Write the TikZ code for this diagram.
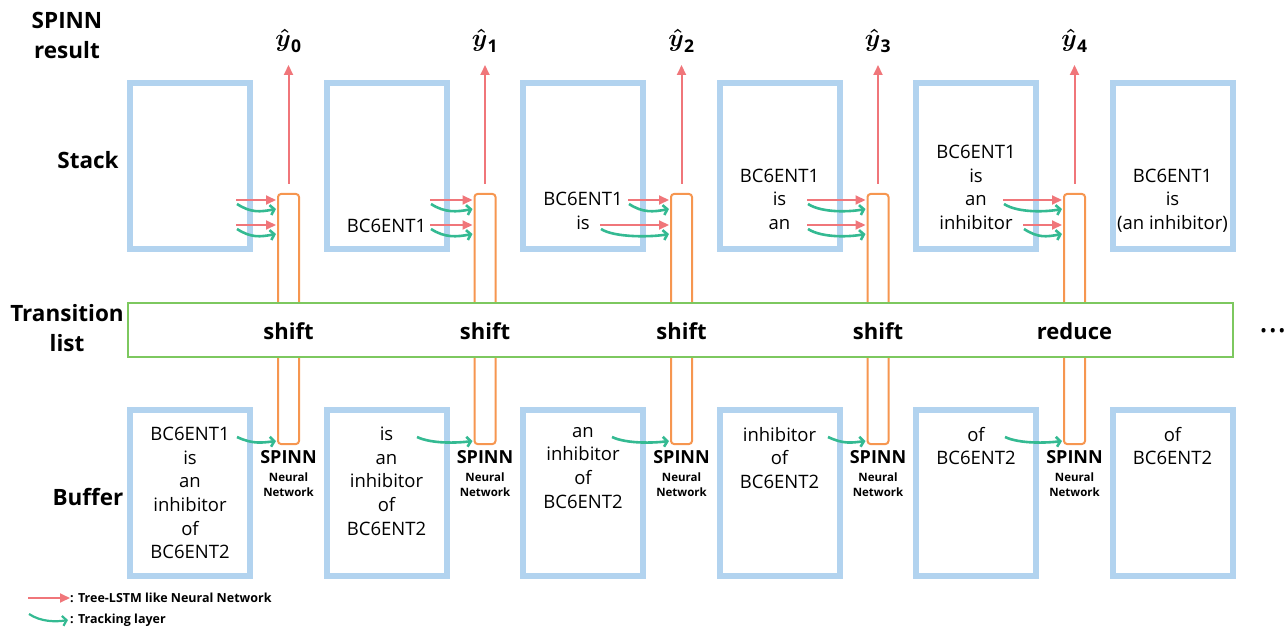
\documentclass[tikz,border=0pt]{standalone}
\usepackage{fontspec}
\setmainfont{Open Sans}
\usepackage{amsmath}
\usetikzlibrary{arrows.meta,calc}
\definecolor{boxblue}{RGB}{178,211,239}
\definecolor{nnorange}{RGB}{246,150,80}
\definecolor{treered}{RGB}{240,118,122}
\definecolor{trackgreen}{RGB}{52,186,146}
\definecolor{transgreen}{RGB}{125,200,95}
\begin{document}
\begin{tikzpicture}[x=1pt,y=-1pt,
  wordbox/.style={draw=boxblue, line width=6pt, fill=white, inner sep=0pt,
                  minimum width=120pt, minimum height=166pt},
  nnbox/.style={draw=nnorange, line width=2pt, rounded corners=3pt, fill=white,
                inner sep=0pt, minimum width=21pt, minimum height=250pt},
  transbox/.style={draw=transgreen, line width=2pt, fill=white, inner sep=0pt,
                   minimum width=1105pt, minimum height=54pt},
  treearr/.style={draw=treered, line width=2pt, -{Triangle[length=10pt,width=9pt]}},
  trackarr/.style={draw=trackgreen, line width=2.6pt, -{Straight Barb[length=4pt,width=10pt]}},
  words/.style={anchor=north, inner sep=0pt, align=center,
                font=\fontsize{18.5}{23.6}\selectfont,
                execute at begin node=\strut, execute at end node=\strut},
  rowlabel/.style={inner sep=0pt, align=center, font=\fontsize{22.5}{30}\selectfont\bfseries},
  oplabel/.style={inner sep=0pt, font=\fontsize{22}{26}\selectfont\bfseries},
  spinn/.style={inner sep=0pt, font=\fontsize{18}{20}\selectfont\bfseries},
  nnsub/.style={inner sep=0pt, align=center, font=\fontsize{11.5}{15}\selectfont\bfseries},
  yhat/.style={inner sep=0pt, font=\fontsize{25}{30}\selectfont},
  legend/.style={inner sep=0pt, anchor=west, font=\fontsize{12.5}{15}\selectfont\bfseries}
]
\useasboundingbox (0,0) rectangle (1284,628);

% row labels
\node[rowlabel, anchor=north] (lres) at (67,12.5) {SPINN\\result};
\node[rowlabel] (lstack) at (88,160) {Stack};
\node[rowlabel, anchor=north] (ltrans) at (67,304.5) {Transition\\list};
\node[rowlabel] (lbuf) at (88,497) {Buffer};

% stack and buffer boxes
\foreach \i in {1,...,6}{
  \pgfmathsetmacro{\cx}{190+196.5*(\i-1)}
  \node[wordbox] (s\i) at (\cx,166) {};
  \node[wordbox] (b\i) at (\cx,493) {};
}

% SPINN neural network columns
\foreach \i in {1,...,5}{
  \pgfmathsetmacro{\ox}{288.5+196.5*(\i-1)}
  \node[nnbox] (o\i) at (\ox,319) {};
  \node[spinn] (sp\i) at (\ox,457) {SPINN};
  \node[nnsub] (nn\i) at (\ox,484.5) {Neural\\Network};
}

% transition list
\node[transbox] (t) at (680.5,330) {};
\node[oplabel] (op1) at (o1 |- 0,331) {shift};
\node[oplabel] (op2) at (o2 |- 0,331) {shift};
\node[oplabel] (op3) at (o3 |- 0,331) {shift};
\node[oplabel] (op4) at (o4 |- 0,331) {shift};
\node[oplabel] (op5) at (o5 |- 0,331) {reduce};
\node[inner sep=0pt, anchor=base west, font=\fontsize{34}{40}\selectfont] (dots) at (1259,332) {...};

% results
\coordinate (arrtop) at (0,65);
\foreach \i in {1,...,5}{
  \pgfmathtruncatemacro{\k}{\i-1}
  \node[yhat] (y\i) at (o\i |- 0,41) {$\boldsymbol{\hat{y}}_{\mathbf{\k}}$};
  \draw[treearr] ([yshift=9pt]o\i.north) -- (o\i.north |- arrtop);
}

% stack contents
\node[words] (st2) at (s2 |- 0,216) {BC6ENT1};
\node[words] (st3) at (s3 |- 0,192.4) {BC6ENT1\\is};
\node[words] (st4) at (s4 |- 0,168.8) {BC6ENT1\\is\\an};
\node[words] (st5) at (s5 |- 0,145.2) {BC6ENT1\\is\\an\\inhibitor};
\node[words] (st6) at (s6 |- 0,168.8) {BC6ENT1\\is\\(an inhibitor)};

% buffer contents
\node[words] (bt1) at (b1 |- 0,427) {BC6ENT1\\is\\an\\inhibitor\\of\\BC6ENT2};
\node[words] (bt2) at (b2 |- 0,427) {is\\an\\inhibitor\\of\\BC6ENT2};
\node[words] (bt3) at (b3 |- 0,427) {an\\inhibitor\\of\\BC6ENT2};
\node[words] (bt4) at (b4 |- 0,427) {inhibitor\\of\\BC6ENT2};
\node[words] (bt5) at (b5 |- 0,427) {of\\BC6ENT2};
\node[words] (bt6) at (b6 |- 0,427) {of\\BC6ENT2};

% stack -> network arrows (tree-LSTM red + tracking green)
\coordinate (r1a) at (236,200);  \coordinate (r1b) at (236,225);
\coordinate (r2a) at (430,200);  \coordinate (r2b) at (430,225);
\coordinate (r3a) at (628,200);  \coordinate (r3b) at (600,225);
\coordinate (r4a) at (807,200);  \coordinate (r4b) at (807,225);
\coordinate (r5a) at (1003,200); \coordinate (r5b) at (1023,225);
\foreach \i in {1,...,5}{
  \foreach \j in {a,b}{
    \draw[trackarr] ($(r\i\j)+(1,4)$) .. controls +(14,9) and +(-16,3) .. ($(r\i\j -| o\i.west)+(-1,9)$);
    \draw[treearr] (r\i\j) -- ($(r\i\j -| o\i.west)+(-1,0)$);
  }
}

% buffer -> network arrows (tracking)
\coordinate (g1) at (237,437);
\coordinate (g2) at (417,437);
\coordinate (g3) at (612,437);
\coordinate (g4) at (828,437);
\coordinate (g5) at (1005,437);
\foreach \i in {1,...,5}{
  \draw[trackarr] (g\i) .. controls +(15,7) and +(-15,2) .. ($(g\i -| o\i.west)+(-1,4)$);
}

% legend
\node[legend] (leg1) at (70,598) {: Tree-LSTM like Neural Network};
\node[legend] (leg2) at (70,620) {: Tracking layer};
\coordinate (la) at (28,598);
\coordinate (lb) at (29,614);
\draw[treearr, line width=1.8pt] (la) -- (leg1.west);
\draw[trackarr, line width=2.2pt] (lb) .. controls +(12,8) and +(-12,2) .. ($(leg2.west)+(-2,0)$);
\end{tikzpicture}
\end{document}
